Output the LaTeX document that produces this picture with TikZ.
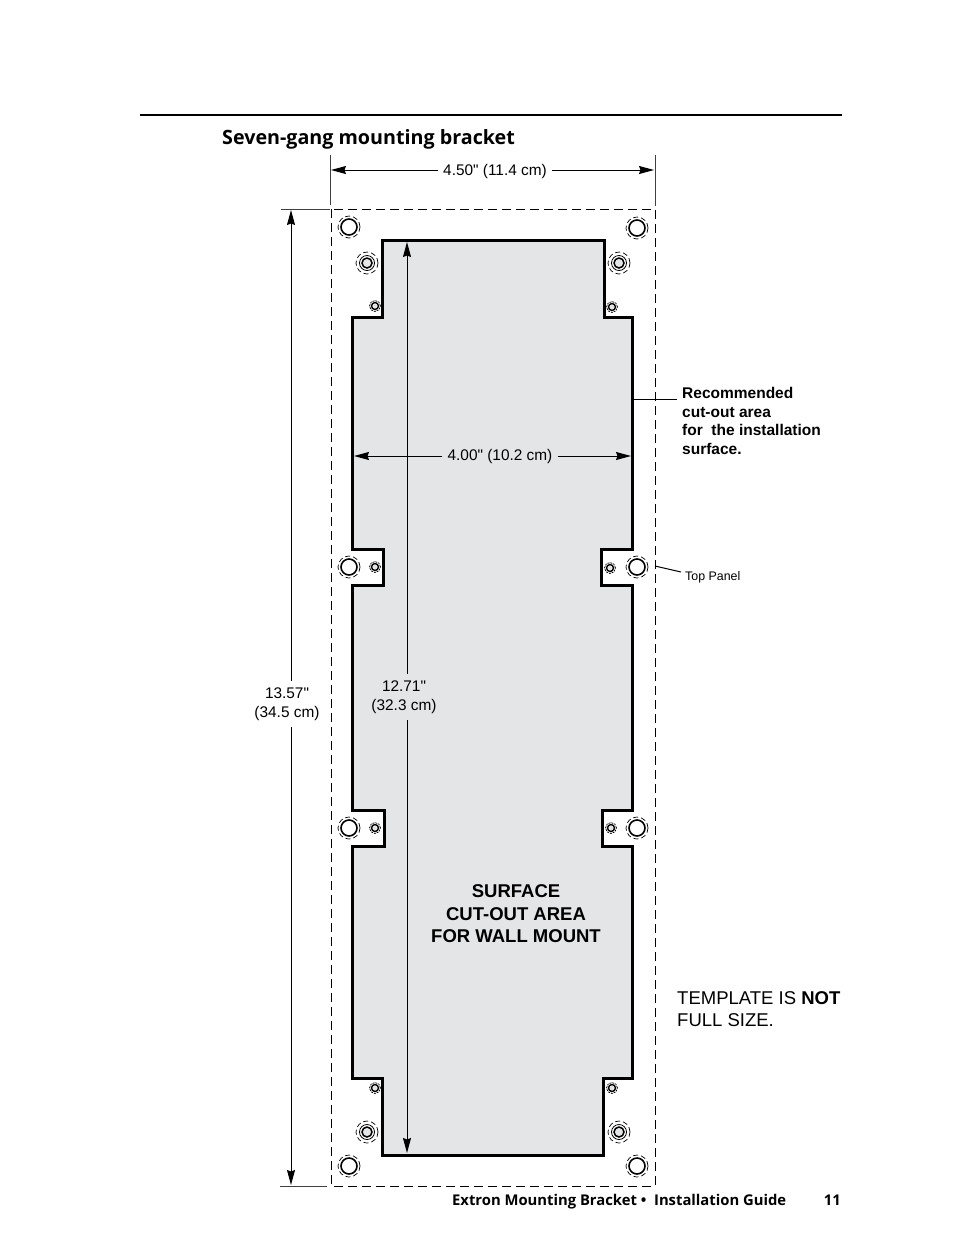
\documentclass[tikz,border=0pt]{standalone}
\usepackage{fontspec}
\setmainfont{Liberation Sans}[Ligatures=TeXOff]
\newfontfamily\headfont{Open Sans}
\usetikzlibrary{arrows.meta}
\definecolor{panelgray}{HTML}{E4E5E7}
\tikzset{
    dimline/.style={line width=1pt, -{Stealth[length=15pt,width=8pt,inset=1.5pt]}},
    tickline/.style={line width=0.9pt, black!75},
    leader/.style={line width=1pt},
    dimtext/.style={font=\fontsize{15.4}{18.5}\selectfont, align=center, inner xsep=5pt, inner ysep=7pt},
    ring/.style={circle, draw, line width=0.7pt, dash pattern=on 5pt off 3pt, inner sep=0pt},
    bighole/.style={circle, draw, line width=1.6pt, fill=white, minimum size=16pt, inner sep=0pt},
    midhole/.style={circle, draw, line width=1.5pt, fill=panelgray, minimum size=10pt, inner sep=0pt},
    smallhole/.style={circle, draw, line width=1.4pt, fill=panelgray, minimum size=7pt, inner sep=0pt},
}
\begin{document}
\begin{tikzpicture}[x=1pt, y=-1pt]
    \useasboundingbox (0,0) rectangle (954,1235);
    \fill[white] (0,0) rectangle (954,1235);

    \draw[line width=2pt] (140,115) -- (842,115);
    \node[anchor=base west, inner sep=0pt, font=\headfont\bfseries\fontsize{19.7}{24}\selectfont] (title) at (222,144.5) {Seven-gang mounting bracket};

    \filldraw[fill=panelgray, line width=3pt, miter limit=10]
        (382,240) -- (604,240) -- (604,317) -- (632,317) -- (632,549) -- (601,549) -- (601,585) -- (632,585)
        -- (632,810) -- (602,810) -- (602,846) -- (632,846) -- (632,1078) -- (603,1078) -- (603,1155)
        -- (382,1155) -- (382,1078) -- (352,1078) -- (352,846) -- (384,846) -- (384,810) -- (352,810)
        -- (352,585) -- (383,585) -- (383,549) -- (352,549) -- (352,317) -- (382,317) -- cycle;

    \draw[line width=0.9pt, dash pattern=on 9pt off 5pt] (331,209) rectangle (655,1186);

    \foreach \x/\y [count=\i] in {349/227, 637/228, 349/567, 637/567, 349/828, 637/828, 349/1166, 637/1166} {
        \node[ring, minimum size=22pt] (bigring\i) at (\x,\y) {};
        \node[bighole] (bighole\i) at (\x,\y) {};
    }
    \foreach \x/\y [count=\i] in {367/263, 619/263, 367/1132, 619/1132} {
        \node[ring, minimum size=22pt] (midring\i) at (\x,\y) {};
        \node[circle, draw, line width=0.8pt, minimum size=15pt] (midouter\i) at (\x,\y) {};
        \node[midhole] (midhole\i) at (\x,\y) {};
    }
    \foreach \x/\y [count=\i] in {375/306, 612/307, 375/567, 610/568, 375/828, 611/828, 375/1088, 612/1088} {
        \node[ring, minimum size=11pt, dash pattern=on 2pt off 1pt] (smallring\i) at (\x,\y) {};
        \node[smallhole] (smallhole\i) at (\x,\y) {};
    }

    \coordinate (wtopl) at (330,155);
    \coordinate (wbotl) at (330,205);
    \coordinate (wtopr) at (655,155);
    \coordinate (wbotr) at (655,206);
    \coordinate (warrl) at (331,170);
    \coordinate (warrr) at (654,170);
    \draw[tickline] (wtopl) -- (wbotl);
    \draw[tickline] (wtopr) -- (wbotr);
    \node[dimtext] (outerw) at (495,172) {4.50" (11.4 cm)};
    \draw[dimline] (outerw.west |- warrl) -- (warrl);
    \draw[dimline] (outerw.east |- warrr) -- (warrr);

    \coordinate (htopa) at (281,209);
    \coordinate (htopb) at (330,209);
    \coordinate (hbota) at (280,1186);
    \coordinate (hbotb) at (327,1186);
    \coordinate (harrt) at (291,210);
    \coordinate (harrb) at (291,1185);
    \draw[tickline] (htopa) -- (htopb);
    \draw[tickline] (hbota) -- (hbotb);
    \node[dimtext] (outerh) at (287,704) {13.57"\\(34.5 cm)};
    \draw[dimline] (outerh.north -| harrt) -- (harrt);
    \draw[dimline] (outerh.south -| harrb) -- (harrb);

    \coordinate (iarrl) at (354,456);
    \coordinate (iarrr) at (631,456);
    \node[dimtext] (innerw) at (500,457) {4.00" (10.2 cm)};
    \draw[dimline] (innerw.west |- iarrl) -- (iarrl);
    \draw[dimline] (innerw.east |- iarrr) -- (iarrr);

    \coordinate (jarrt) at (407,242);
    \coordinate (jarrb) at (407,1153);
    \node[dimtext] (innerh) at (404,697) {12.71"\\(32.3 cm)};
    \draw[dimline] (innerh.north -| jarrt) -- (jarrt);
    \draw[dimline] (innerh.south -| jarrb) -- (jarrb);

    \coordinate (cutedge) at (632,399);
    \coordinate (paneledge) at (655,566);
    \node[anchor=north west, inner sep=0pt, align=left, font=\bfseries\fontsize{15.5}{18.7}\selectfont] (cutlabel) at (682,387) {Recommended\\cut-out area\\for\ \ the installation\\surface.};
    \coordinate (cutend) at (677,399);
    \draw[leader] (cutedge) -- (cutend);
    \node[anchor=west, inner sep=0pt, font=\fontsize{12.4}{14}\selectfont] (toplabel) at (685,577) {Top Panel};
    \coordinate (topend) at (681,572);
    \draw[leader] (paneledge) -- (topend);

    \node[align=center, inner sep=0pt, font=\bfseries\fontsize{18.5}{22.5}\selectfont] (surface) at (516,914) {SURFACE\\CUT-OUT AREA\\FOR WALL MOUNT};
    \node[anchor=north west, align=left, inner sep=0pt, font=\fontsize{18.5}{22.5}\selectfont] (template) at (677,991) {TEMPLATE IS \textbf{NOT}\\FULL SIZE.};

    \node[anchor=base west, inner sep=0pt, font=\headfont\bfseries\fontsize{14.8}{18}\selectfont] (footer) at (452,1205) {Extron Mounting Bracket \textbullet\ \ Installation Guide};
    \node[anchor=base east, inner sep=0pt, font=\headfont\bfseries\fontsize{14.8}{18}\selectfont] (pagenum) at (841,1205) {11};
\end{tikzpicture}
\end{document}
